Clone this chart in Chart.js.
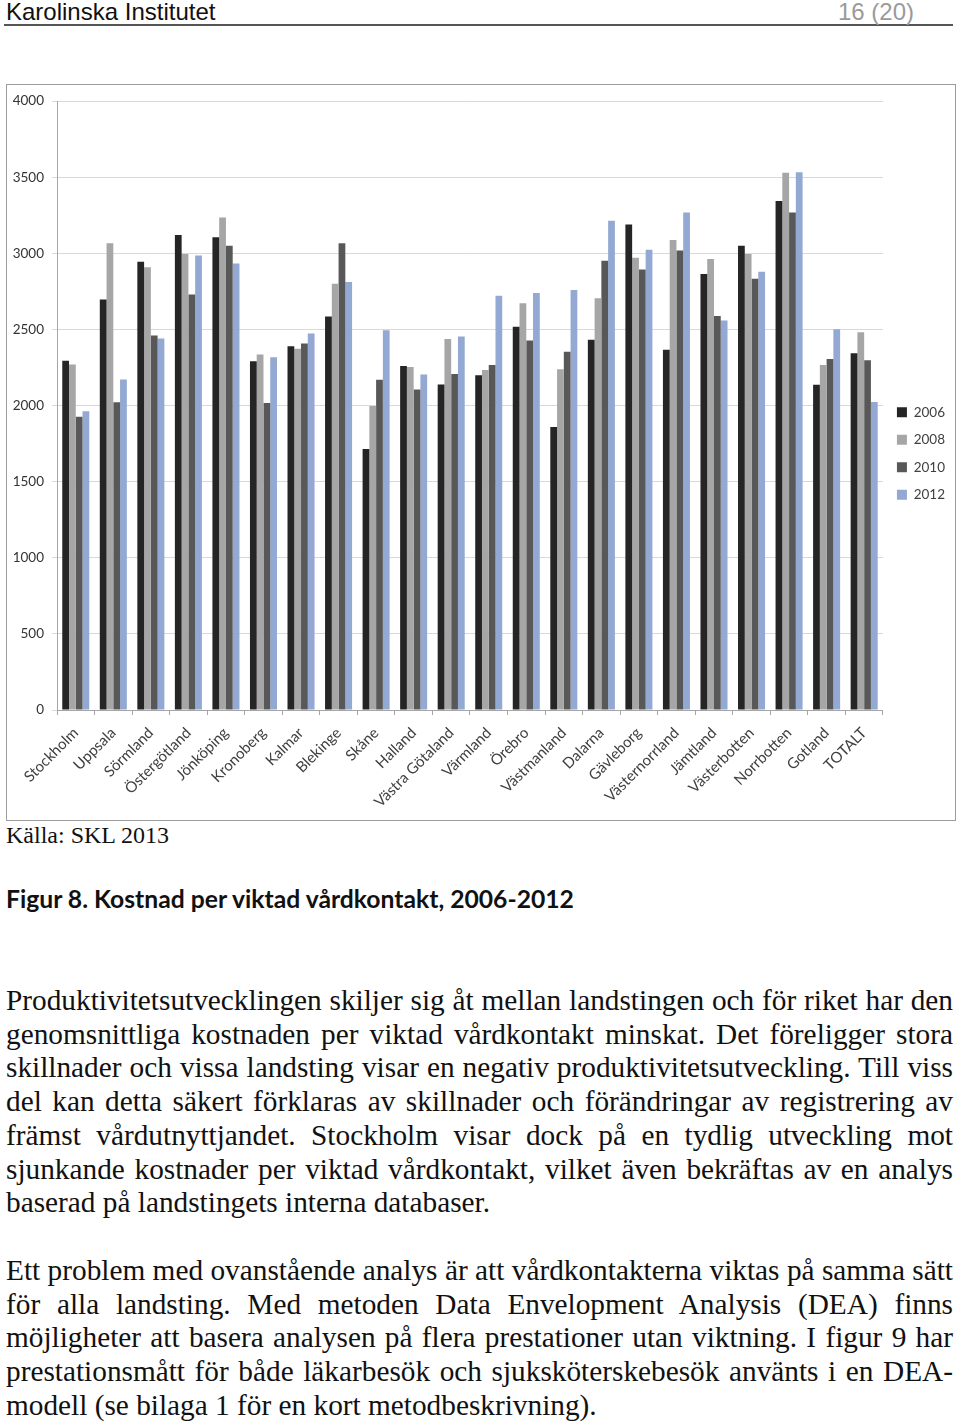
<!DOCTYPE html>
<html lang="sv">
<head>
<meta charset="utf-8">
<title>Kostnad per viktad vårdkontakt</title>
<script src="https://cdn.jsdelivr.net/npm/chart.js@4.4.1/dist/chart.umd.min.js"></script>
<style>
  html, body { margin: 0; padding: 0; background: #fff; }
  body { width: 960px; height: 1424px; position: relative; overflow: hidden; }
  .page-head { position: absolute; left: 4px; top: 0; width: 949px; height: 24px; border-bottom: 2px solid #555; }
  .page-head .org { position: absolute; left: 2px; top: -2.5px; font: 24px "Liberation Sans", Arial, sans-serif; color: #111; }
  .page-head .num { position: absolute; left: 834px; top: -2.5px; font: 24px "Liberation Sans", Arial, sans-serif; color: #9a9a9a; }
  .chart-box { position: absolute; left: 6px; top: 84px; width: 948px; height: 735px; border: 1px solid #9d9d9d; }
  .source { position: absolute; left: 6px; top: 822px; font: 24px "Liberation Serif", serif; color: #111; }
  .caption { position: absolute; left: 6px; top: 884px; font: bold 24.7px Lato, sans-serif; color: #111; }
  .txt { position: absolute; left: 6px; width: 947px; font: 29.3px/33.7px "Liberation Serif", serif; color: #111; }
  .txt div { text-align: justify; text-align-last: justify; white-space: nowrap; }
  .txt div.last { text-align: left; text-align-last: left; }
</style>
</head>
<body>
<div class="page-head"><span class="org">Karolinska Institutet</span><span class="num">16 (20)</span></div>

<div class="chart-box"><canvas id="chart_kostnad"></canvas></div>

<div class="source">Källa: SKL 2013</div>
<div class="caption">Figur 8. Kostnad per viktad vårdkontakt, 2006-2012</div>

<div class="txt" style="top: 984px;">
  <div>Produktivitetsutvecklingen skiljer sig åt mellan landstingen och för riket har den</div>
  <div>genomsnittliga kostnaden per viktad vårdkontakt minskat. Det föreligger stora</div>
  <div>skillnader och vissa landsting visar en negativ produktivitetsutveckling. Till viss</div>
  <div>del kan detta säkert förklaras av skillnader och förändringar av registrering av</div>
  <div>främst vårdutnyttjandet. Stockholm visar dock på en tydlig utveckling mot</div>
  <div>sjunkande kostnader per viktad vårdkontakt, vilket även bekräftas av en analys</div>
  <div class="last">baserad på landstingets interna databaser.</div>
</div>

<div class="txt" style="top: 1254px;">
  <div>Ett problem med ovanstående analys är att vårdkontakterna viktas på samma sätt</div>
  <div>för alla landsting. Med metoden Data Envelopment Analysis (DEA) finns</div>
  <div>möjligheter att basera analysen på flera prestationer utan viktning. I figur 9 har</div>
  <div>prestationsmått för både läkarbesök och sjuksköterskebesök använts i en DEA-</div>
  <div class="last">modell (se bilaga 1 för en kort metodbeskrivning).</div>
</div>

<script>
// landsting
const categories = ['Stockholm', 'Uppsala', 'Sörmland', 'Östergötland', 'Jönköping', 'Kronoberg',
  'Kalmar', 'Blekinge', 'Skåne', 'Halland', 'Västra Götaland', 'Värmland', 'Örebro', 'Västmanland',
  'Dalarna', 'Gävleborg', 'Västernorrland', 'Jämtland', 'Västerbotten', 'Norrbotten', 'Gotland', 'TOTALT'];

const years = ['2006', '2008', '2010', '2012'];

const v2006 = [2294, 2697, 2944, 3121, 3105, 2291, 2389, 2585, 1714, 2259, 2139, 2199, 2517, 1859, 2433, 3190, 2367, 2865, 3050, 3344, 2136, 2343];
const v2008 = [2269, 3067, 2909, 2996, 3235, 2335, 2373, 2800, 1997, 2253, 2438, 2234, 2672, 2239, 2705, 2971, 3088, 2963, 2996, 3529, 2267, 2482];
const v2010 = [1927, 2022, 2460, 2729, 3050, 2016, 2408, 3067, 2169, 2106, 2207, 2267, 2427, 2354, 2952, 2893, 3018, 2588, 2833, 3268, 2305, 2297];
const v2012 = [1962, 2171, 2441, 2985, 2933, 2318, 2473, 2811, 2495, 2204, 2454, 2721, 2740, 2759, 3214, 3023, 3268, 2558, 2879, 3532, 2501, 2024];

const y_ticks = [0, 500, 1000, 1500, 2000, 2500, 3000, 3500, 4000];

const colors = ['#252525', '#a6a6a6', '#585858', '#93a8d2'];

let series = [v2006, v2008, v2010, v2012];
let datasets = series.map((vals, i) => ({
  label: years[i],
  data: vals,
  backgroundColor: colors[i],
  borderWidth: 0,
  barPercentage: 1.0,
  categoryPercentage: 0.72
}));

let ctx = document.getElementById('chart_kostnad').getContext('2d');
new Chart(ctx, {
  type: 'bar',
  data: {
    labels: categories,
    datasets: datasets
  },
  options: {
    responsive: true,
    maintainAspectRatio: false,
    animation: false,
    layout: {
      // bottom padding keeps the legend centred on the whole box
      padding: { top: 16, left: 0, right: 0, bottom: 14 }
    },
    scales: {
      x: {
        grid: { display: true, drawOnChartArea: false, drawTicks: true, tickLength: 5, color: '#a6a6a6', offset: true },
        border: { color: '#a6a6a6' },
        ticks: { color: '#404040', font: { family: 'Lato', size: 15 }, maxRotation: 45, minRotation: 45, autoSkip: false, padding: 9 },
        afterFit: function (scale) { scale.height = 96; }
      },
      y: {
        min: 0,
        max: 4000,
        afterBuildTicks: function (scale) { scale.ticks = y_ticks.map(v => ({ value: v })); },
        grid: { color: '#d9d9d9', tickLength: 5 },
        border: { color: '#a6a6a6' },
        ticks: {
          color: '#333',
          font: { family: 'Lato', size: 13.5 },
          padding: 8,
          callback: function (value) { return String(value); }
        },
        afterFit: function (scale) { scale.width = 50; }
      }
    },
    plugins: {
      legend: {
        position: 'right',
        labels: { boxWidth: 10, boxHeight: 10, padding: 14, color: '#404040', font: { family: 'Lato', size: 13.5 } }
      },
      title: { display: false },
      tooltip: { enabled: false }
    }
  }
});
</script>
</body>
</html>
